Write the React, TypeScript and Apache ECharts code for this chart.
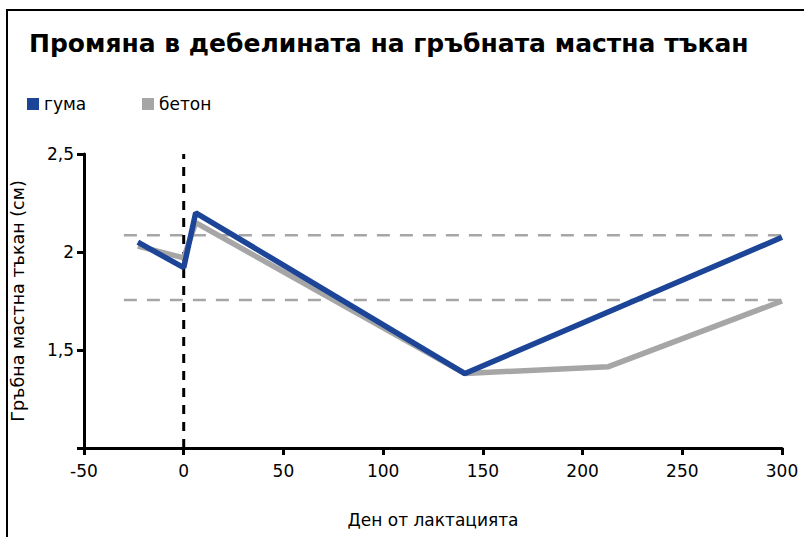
import React, { useEffect, useRef } from "react";
import * as echarts from "echarts";

const rubberX = [-23, 0, 6, 141, 300];
const rubberY = [2.05, 1.92, 2.2, 1.38, 2.075];
const concreteX = [-23, 0, 6, 141, 213, 300];
const concreteY = [2.03, 1.97, 2.15, 1.38, 1.415, 1.75];
const refLevels = [2.085, 1.755];
const refRange = [-30, 300];
const xTicks = { min: -50, max: 300, interval: 50 };
const yTicks = { min: 1, max: 2.5, interval: 0.5 };
const seriesNames = ["гума", "бетон"];
const seriesColors = ["#1c4597", "#a6a6a6"];

const FONT = "DejaVu Sans";

export default function App() {
  const ref = useRef<HTMLDivElement>(null);
  useEffect(() => {
    if (!ref.current) return;
    const chart = echarts.init(ref.current, null, { renderer: "svg" });
    const pair = (xs: number[], ys: number[]) => xs.map((x, i) => [x, ys[i]]);
    const refSeries = refLevels.map((lv) => ({
      type: "line",
      silent: true,
      symbol: "none",
      data: refRange.map((x) => [x, lv]),
      lineStyle: { color: "#a6a6a6", width: 2.5, type: [13, 10] },
      z: 1,
    }));
    const legendX = [27, 142];
    const legendGraphics = seriesNames.flatMap((name, i) => [
      {
        type: "rect",
        shape: { x: legendX[i], y: 98, width: 12, height: 12 },
        style: { fill: seriesColors[i] },
        silent: true,
      },
      {
        type: "text",
        x: legendX[i] + 17,
        y: 104,
        style: {
          text: name,
          fill: "#000",
          font: `17px "${FONT}"`,
          textVerticalAlign: "middle",
          verticalAlign: "middle",
        },
        silent: true,
      },
    ]);
    chart.setOption({
      animation: false,
      textStyle: { fontFamily: FONT },
      graphic: [
        {
          type: "rect",
          shape: { x: 7, y: 10, width: 830, height: 560 },
          style: { fill: "none", stroke: "#000", lineWidth: 2 },
          silent: true,
        },
        ...legendGraphics,
      ],
      title: {
        text: "Промяна в дебелината на гръбната мастна тъкан",
        left: 24,
        top: 26,
        textStyle: { fontFamily: FONT, fontWeight: "bold", fontSize: 25, color: "#000" },
      },
      grid: { left: 84, top: 154, right: 22, bottom: 89 },
      xAxis: {
        type: "value",
        min: xTicks.min,
        max: xTicks.max,
        interval: xTicks.interval,
        name: "Ден от лактацията",
        nameLocation: "middle",
        nameGap: 63,
        nameTextStyle: { fontFamily: FONT, fontSize: 17, color: "#000" },
        axisLine: { onZero: false, lineStyle: { color: "#000", width: 3 } },
        axisTick: { show: true, length: 7, lineStyle: { color: "#000", width: 3 } },
        axisLabel: { fontFamily: FONT, fontSize: 17, color: "#000", margin: 14 },
        splitLine: { show: false },
      },
      yAxis: {
        type: "value",
        min: yTicks.min,
        max: yTicks.max,
        interval: yTicks.interval,
        name: "Гръбна мастна тъкан (см)",
        nameLocation: "middle",
        nameGap: 57,
        nameTextStyle: { fontFamily: FONT, fontSize: 17.5, color: "#000" },
        axisLine: { show: true, onZero: false, lineStyle: { color: "#000", width: 3 } },
        axisTick: { show: true, length: 7, lineStyle: { color: "#000", width: 3 } },
        axisLabel: {
          fontFamily: FONT,
          fontSize: 17,
          color: "#000",
          margin: 10,
          formatter: (v: number) => (v === 1 ? "" : String(v).replace(".", ",")),
        },
        splitLine: { show: false },
      },
      series: [
        ...refSeries,
        {
          type: "line",
          silent: true,
          symbol: "none",
          data: [[0, yTicks.min], [0, yTicks.max]],
          lineStyle: { color: "#000", width: 3, type: [9, 8] },
          z: 1,
        },
        {
          name: seriesNames[1],
          type: "line",
          symbol: "none",
          data: pair(concreteX, concreteY),
          lineStyle: { color: seriesColors[1], width: 5.5 },
          z: 2,
        },
        {
          name: seriesNames[0],
          type: "line",
          symbol: "none",
          data: pair(rubberX, rubberY),
          lineStyle: { color: seriesColors[0], width: 5.5 },
          z: 3,
        },
      ],
    });
    return () => chart.dispose();
  }, []);
  return (
    <div
      ref={ref}
      style={{ position: "fixed", left: 0, top: 0, width: 804, height: 537, background: "#fff" }}
    />
  );
}
